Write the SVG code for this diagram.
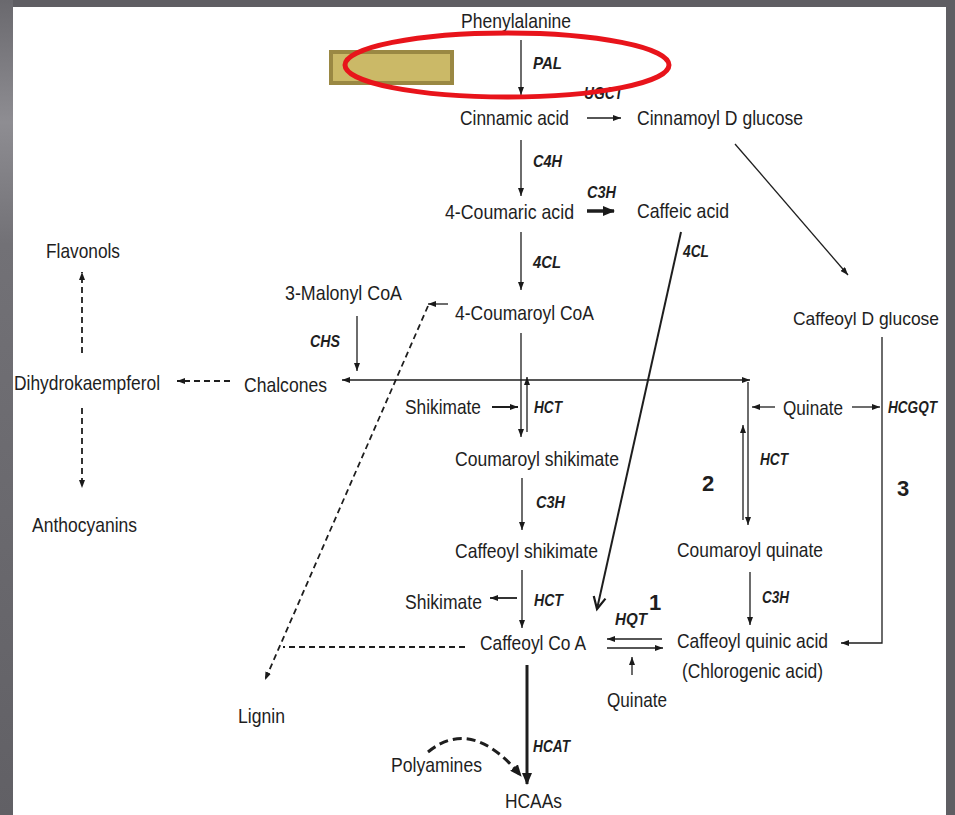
<svg xmlns="http://www.w3.org/2000/svg" width="955" height="815" viewBox="0 0 955 815">
<defs>
<linearGradient id="lg" x1="0" y1="0" x2="0" y2="1">
<stop offset="0" stop-color="#6a696e"/>
<stop offset="0.15" stop-color="#8e8d92"/>
<stop offset="0.3" stop-color="#727176"/>
<stop offset="1" stop-color="#616065"/>
</linearGradient>
<marker id="ah" markerUnits="userSpaceOnUse" markerWidth="8" markerHeight="6" refX="8" refY="3" orient="auto-start-reverse"><path d="M0,0 L8,3 L0,6 z" fill="#1a1a1a"/></marker>
<marker id="ahb" markerUnits="userSpaceOnUse" markerWidth="12" markerHeight="10" refX="11" refY="5" orient="auto"><path d="M0,0 L12,5 L0,10 z" fill="#1a1a1a"/></marker>
<marker id="av" markerUnits="userSpaceOnUse" markerWidth="16" markerHeight="16" refX="13" refY="8" orient="auto"><path d="M1,2 L13,8 L1,14" fill="none" stroke="#1a1a1a" stroke-width="2.2"/></marker>
<style>
.t{font-family:"Liberation Sans",Arial,sans-serif;font-size:21px;fill:#1e1e1e}
.e{font-family:"Liberation Sans",Arial,sans-serif;font-size:17px;font-weight:bold;font-style:italic;fill:#1e1e1e}
.n{font-family:"Liberation Sans",Arial,sans-serif;font-size:22px;font-weight:bold;fill:#1e1e1e}
.l{fill:none;stroke:#1e1e1e;stroke-width:1.3}
.d{fill:none;stroke:#1e1e1e;stroke-width:1.8;stroke-dasharray:6 4}
</style>
</defs>
<rect x="0" y="0" width="955" height="815" fill="#5f5e63"/>
<rect x="0" y="0" width="13" height="815" fill="url(#lg)"/>
<rect x="13" y="7" width="933" height="808" fill="#ffffff"/>

<g id="connectors">
<path class="l" d="M521,40 V95" marker-end="url(#ah)"/>
<path class="l" d="M587,118 H621" marker-end="url(#ah)"/>
<path class="l" d="M521,140 V196" marker-end="url(#ah)"/>
<path class="l" d="M587,211 H614" style="stroke-width:3.5" marker-end="url(#ahb)"/>
<path class="l" d="M521,232 V290" marker-end="url(#ah)"/>
<path class="l" d="M681,232 L597,609" style="stroke-width:2" marker-end="url(#av)"/>
<path class="l" d="M735,144 L848,275" marker-end="url(#ah)"/>
<path class="l" d="M448,304 H428" marker-end="url(#ah)"/>
<path class="d" d="M428,306 L265,680" marker-end="url(#ah)"/>
<path class="l" d="M357,316 V371" marker-end="url(#ah)"/>
<path class="l" d="M342,380 H750" marker-start="url(#ah)" marker-end="url(#ah)"/>
<path class="l" d="M521,333 V437" marker-end="url(#ah)"/>
<path class="l" d="M527,432 V377" marker-end="url(#ah)"/>
<path class="l" d="M492,407 H518" style="stroke-width:2" marker-end="url(#ah)"/>
<path class="l" d="M522,478 V530" marker-end="url(#ah)"/>
<path class="l" d="M517,598 H490" style="stroke-width:1.8" marker-end="url(#ah)"/>
<path class="l" d="M522,570 V628" marker-end="url(#ah)"/>
<path class="l" d="M527,665 V784" style="stroke-width:3" marker-end="url(#ahb)"/>
<path class="d" d="M428,752 Q472,716 521,776" style="stroke-width:3;stroke-dasharray:9 5" marker-end="url(#ahb)"/>
<path class="d" d="M465,647 H283"/>
<path class="d" d="M230,381 H177" marker-end="url(#ah)"/>
<path class="d" d="M82,353 V272" marker-end="url(#ah)"/>
<path class="d" d="M82,408 V488" marker-end="url(#ah)"/>
<path class="l" d="M748,382 V525" marker-end="url(#ah)"/>
<path class="l" d="M743,520 V425" marker-end="url(#ah)"/>
<path class="l" d="M775,407 H752" marker-end="url(#ah)"/>
<path class="l" d="M852,407 H880" marker-end="url(#ah)"/>
<path class="l" d="M750,572 V625" marker-end="url(#ah)"/>
<path class="l" d="M882,337 V643 H841" marker-end="url(#ah)"/>
<path class="l" d="M662,639 H607" marker-end="url(#ah)"/>
<path class="l" d="M607,648 H663" marker-end="url(#ah)"/>
<path class="l" d="M632,675 V657" marker-end="url(#ah)"/>
</g>

<g id="phenylalanine"><text class="t" x="461" y="28" textLength="110" lengthAdjust="spacingAndGlyphs">Phenylalanine</text></g>
<g id="cinnamic-acid"><text class="t" x="460" y="125" textLength="109" lengthAdjust="spacingAndGlyphs">Cinnamic acid</text></g>
<g id="cinnamoyl-d-glucose"><text class="t" x="637" y="125" textLength="166" lengthAdjust="spacingAndGlyphs">Cinnamoyl D glucose</text></g>
<g id="coumaric-acid"><text class="t" x="445" y="219" textLength="129" lengthAdjust="spacingAndGlyphs">4-Coumaric acid</text></g>
<g id="caffeic-acid"><text class="t" x="637" y="218" textLength="92" lengthAdjust="spacingAndGlyphs">Caffeic acid</text></g>
<g id="malonyl-coa"><text class="t" x="285" y="300" textLength="117" lengthAdjust="spacingAndGlyphs">3-Malonyl CoA</text></g>
<g id="coumaroyl-coa"><text class="t" x="455" y="320" textLength="139" lengthAdjust="spacingAndGlyphs">4-Coumaroyl CoA</text></g>
<g id="caffeoyl-d-glucose"><text class="t" x="793" y="325" textLength="146" lengthAdjust="spacingAndGlyphs" style="font-size:19px">Caffeoyl D glucose</text></g>
<g id="flavonols"><text class="t" x="46" y="258" textLength="74" lengthAdjust="spacingAndGlyphs">Flavonols</text></g>
<g id="dihydrokaempferol"><text class="t" x="14" y="390" textLength="146" lengthAdjust="spacingAndGlyphs">Dihydrokaempferol</text></g>
<g id="chalcones"><text class="t" x="244" y="392" textLength="83" lengthAdjust="spacingAndGlyphs">Chalcones</text></g>
<g id="shikimate-1"><text class="t" x="405" y="414" textLength="76" lengthAdjust="spacingAndGlyphs">Shikimate</text></g>
<g id="quinate-1"><text class="t" x="783" y="415" textLength="60" lengthAdjust="spacingAndGlyphs">Quinate</text></g>
<g id="coumaroyl-shikimate"><text class="t" x="455" y="466" textLength="164" lengthAdjust="spacingAndGlyphs">Coumaroyl shikimate</text></g>
<g id="anthocyanins"><text class="t" x="32" y="532" textLength="105" lengthAdjust="spacingAndGlyphs">Anthocyanins</text></g>
<g id="caffeoyl-shikimate"><text class="t" x="455" y="558" textLength="143" lengthAdjust="spacingAndGlyphs">Caffeoyl shikimate</text></g>
<g id="coumaroyl-quinate"><text class="t" x="677" y="557" textLength="146" lengthAdjust="spacingAndGlyphs">Coumaroyl quinate</text></g>
<g id="shikimate-2"><text class="t" x="405" y="609" textLength="77" lengthAdjust="spacingAndGlyphs">Shikimate</text></g>
<g id="caffeoyl-coa"><text class="t" x="480" y="650" textLength="106" lengthAdjust="spacingAndGlyphs">Caffeoyl Co A</text></g>
<g id="chlorogenic-acid"><text class="t" x="677" y="648" textLength="151" lengthAdjust="spacingAndGlyphs">Caffeoyl quinic acid</text><text class="t" x="682" y="678" textLength="141" lengthAdjust="spacingAndGlyphs">(Chlorogenic acid)</text></g>
<g id="quinate-2"><text class="t" x="607" y="707" textLength="60" lengthAdjust="spacingAndGlyphs">Quinate</text></g>
<g id="lignin"><text class="t" x="238" y="723" textLength="47" lengthAdjust="spacingAndGlyphs">Lignin</text></g>
<g id="polyamines"><text class="t" x="391" y="772" textLength="91" lengthAdjust="spacingAndGlyphs">Polyamines</text></g>
<g id="hcaas"><text class="t" x="505" y="808" textLength="57" lengthAdjust="spacingAndGlyphs">HCAAs</text></g>

<g id="enzymes">
<text class="e" x="533" y="69" textLength="29" lengthAdjust="spacingAndGlyphs">PAL</text>
<text class="e" x="584" y="99" textLength="39" lengthAdjust="spacingAndGlyphs">UGCT</text>
<text class="e" x="533" y="167" textLength="29" lengthAdjust="spacingAndGlyphs">C4H</text>
<text class="e" x="587" y="198" textLength="29" lengthAdjust="spacingAndGlyphs">C3H</text>
<text class="e" x="683" y="257" textLength="26" lengthAdjust="spacingAndGlyphs">4CL</text>
<text class="e" x="533" y="268" textLength="28" lengthAdjust="spacingAndGlyphs">4CL</text>
<text class="e" x="310" y="347" textLength="30" lengthAdjust="spacingAndGlyphs">CHS</text>
<text class="e" x="534" y="413" textLength="28" lengthAdjust="spacingAndGlyphs">HCT</text>
<text class="e" x="888" y="413" textLength="49" lengthAdjust="spacingAndGlyphs">HCGQT</text>
<text class="e" x="760" y="465" textLength="28" lengthAdjust="spacingAndGlyphs">HCT</text>
<text class="e" x="536" y="508" textLength="29" lengthAdjust="spacingAndGlyphs">C3H</text>
<text class="e" x="534" y="606" textLength="29" lengthAdjust="spacingAndGlyphs">HCT</text>
<text class="e" x="762" y="603" textLength="27" lengthAdjust="spacingAndGlyphs">C3H</text>
<text class="e" x="615" y="625" textLength="32" lengthAdjust="spacingAndGlyphs">HQT</text>
<text class="e" x="533" y="752" textLength="37" lengthAdjust="spacingAndGlyphs">HCAT</text>
</g>
<g id="route-numbers">
<text class="n" x="702" y="491">2</text>
<text class="n" x="897" y="496">3</text>
<text class="n" x="649" y="610">1</text>
</g>

<g id="highlight">
<rect x="331" y="52" width="121" height="31" fill="#cbb967" stroke="#9a8843" stroke-width="4"/>
<ellipse cx="507" cy="65" rx="162" ry="32" fill="none" stroke="#e8141b" stroke-width="5"/>
</g>
</svg>
